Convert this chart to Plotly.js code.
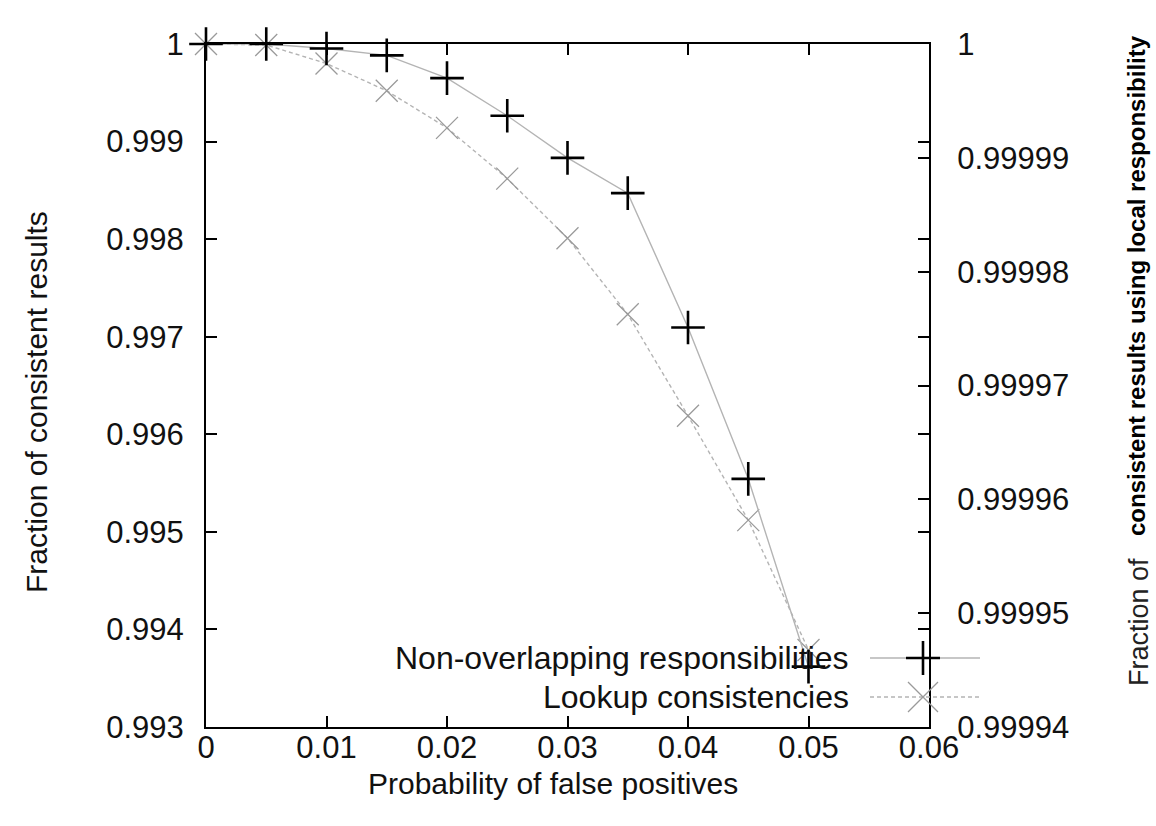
<!DOCTYPE html>
<html>
<head>
<meta charset="utf-8">
<script src="https://cdn.plot.ly/plotly-3.0.1.min.js"></script>
<style>html,body{margin:0;padding:0;background:#fff;}#chart{width:1156px;height:826px;}</style>
</head>
<body>
<div id="chart"></div>
<script>
// ---- data ----
const falsePositiveProb = [0, 0.005, 0.01, 0.015, 0.02, 0.025, 0.03, 0.035, 0.04, 0.045, 0.05];
const nonOverlapping = [1, 1, 0.9999996, 0.999999, 0.999997, 0.9999937, 0.99999, 0.9999869, 0.9999751, 0.9999618, 0.9999453];
const lookupConsistencies = [1, 0.99999, 0.9998, 0.99952, 0.99914, 0.99862, 0.99801, 0.99723, 0.99619, 0.99512, 0.99379];

const seriesNames = ["Non-overlapping responsibilities", "Lookup consistencies"];

const xTickVals = [0, 0.01, 0.02, 0.03, 0.04, 0.05, 0.06];
const xTickText = ["0", "0.01", "0.02", "0.03", "0.04", "0.05", "0.06"];
const leftTickVals = [0.993, 0.994, 0.995, 0.996, 0.997, 0.998, 0.999, 1];
const leftTickText = ["0.993", "0.994", "0.995", "0.996", "0.997", "0.998", "0.999", "1"];
const rightTickVals = [0.99994, 0.99995, 0.99996, 0.99997, 0.99998, 0.99999, 1];
const rightTickText = ["0.99994", "0.99995", "0.99996", "0.99997", "0.99998", "0.99999", "1"];

const xTitle = "Probability of false positives";
const yTitle = "Fraction of consistent results";
const y2TitleA = "Fraction of";
const y2TitleB = "consistent results using local responsibility";

// ---- styles ----
const FONT = "'Liberation Sans', Arial, Helvetica, sans-serif";
const lineGray = "#b4b4b4";

const traces = [
  {
    x: falsePositiveProb, y: lookupConsistencies, name: seriesNames[1],
    type: "scatter", mode: "lines+markers", yaxis: "y", cliponaxis: false,
    line: {color: lineGray, width: 1.4, dash: "4px,3px"},
    marker: {symbol: "x-thin", size: 22, color: "#9a9a9a", line: {color: "#9a9a9a", width: 1.3}}
  },
  {
    x: falsePositiveProb, y: nonOverlapping, name: seriesNames[0],
    type: "scatter", mode: "lines+markers", yaxis: "y2", cliponaxis: false,
    line: {color: lineGray, width: 1.4},
    marker: {symbol: "cross-thin", size: 24, color: "#000", line: {color: "#000", width: 2.6}}
  }
];

// paper coordinate helpers for legend/titles (plot area 206..929 x 44..727)
const px = v => (v - 206) / 723;
const py = v => (727 - v) / 683;

const layout = {
  width: 1156, height: 826,
  margin: {l: 206, r: 227, t: 44, b: 99},
  paper_bgcolor: "#fff", plot_bgcolor: "#fff",
  showlegend: false,
  font: {family: FONT, size: 31, color: "#000"},
  xaxis: {
    range: [0, 0.06], tickvals: xTickVals, ticktext: xTickText,
    ticks: "inside", ticklen: 11, tickwidth: 2, tickcolor: "#000",
    showline: true, linecolor: "#000", linewidth: 2, mirror: "ticks",
    showgrid: false, zeroline: false, ticklabelstandoff: -8,
    tickfont: {family: FONT, size: 31, color: "#111"}
  },
  yaxis: {
    range: [0.993, 1], tickvals: leftTickVals, ticktext: leftTickText,
    ticks: "inside", ticklen: 11, tickwidth: 2, tickcolor: "#000",
    showline: true, linecolor: "#000", linewidth: 2, mirror: "ticks",
    showgrid: false, zeroline: false, ticklabelstandoff: 14,
    tickfont: {family: FONT, size: 31, color: "#111"}
  },
  yaxis2: {
    range: [0.99994, 1], tickvals: rightTickVals, ticktext: rightTickText,
    overlaying: "y", side: "right",
    ticks: "inside", ticklen: 11, tickwidth: 2, tickcolor: "#000",
    showline: true, linecolor: "#000", linewidth: 2,
    showgrid: false, zeroline: false, ticklabelstandoff: 20,
    tickfont: {family: FONT, size: 31, color: "#111"}
  },
  annotations: [
    {xref: "paper", yref: "paper", x: px(553), y: py(783), text: xTitle, showarrow: false,
     xanchor: "center", yanchor: "middle", font: {family: FONT, size: 30, color: "#111"}},
    {xref: "paper", yref: "paper", x: px(36), y: py(402), text: yTitle, showarrow: false,
     textangle: -90, xanchor: "center", yanchor: "middle", font: {family: FONT, size: 30, color: "#111"}},
    {xref: "paper", yref: "paper", x: px(1139), y: py(622), text: y2TitleA, showarrow: false,
     textangle: -90, xanchor: "center", yanchor: "middle",
     font: {family: FONT, size: 27, color: "#222"}},
    {xref: "paper", yref: "paper", x: px(1136), y: py(286), text: "<b>" + y2TitleB + "</b>", showarrow: false,
     textangle: -90, xanchor: "center", yanchor: "middle",
     font: {family: FONT, size: 24, color: "#000"}},
    {xref: "paper", yref: "paper", x: px(851), y: py(658), text: seriesNames[0], showarrow: false,
     xanchor: "right", yanchor: "middle", font: {family: FONT, size: 32, color: "#111"}},
    {xref: "paper", yref: "paper", x: px(851), y: py(697), text: seriesNames[1], showarrow: false,
     xanchor: "right", yanchor: "middle", font: {family: FONT, size: 32, color: "#111"}}
  ],
  shapes: [
    {type: "line", xref: "paper", yref: "paper", x0: px(870), x1: px(980), y0: py(658), y1: py(658),
     line: {color: lineGray, width: 1.4}},
    {type: "line", xref: "paper", yref: "paper", x0: px(870), x1: px(980), y0: py(697), y1: py(697),
     line: {color: lineGray, width: 1.4, dash: "4px,3px"}},
    {type: "path", xref: "paper", yref: "paper", xsizemode: "pixel", ysizemode: "pixel",
     xanchor: px(923), yanchor: py(658), path: "M-17,0 H17 M0,-17 V17",
     line: {color: "#000", width: 2.6}},
    {type: "path", xref: "paper", yref: "paper", xsizemode: "pixel", ysizemode: "pixel",
     xanchor: px(923), yanchor: py(697), path: "M-15,-15 L15,15 M-15,15 L15,-15",
     line: {color: "#9a9a9a", width: 1.3}}
  ]
};

Plotly.newPlot("chart", traces, layout, {displayModeBar: false, staticPlot: true});
</script>
</body>
</html>
